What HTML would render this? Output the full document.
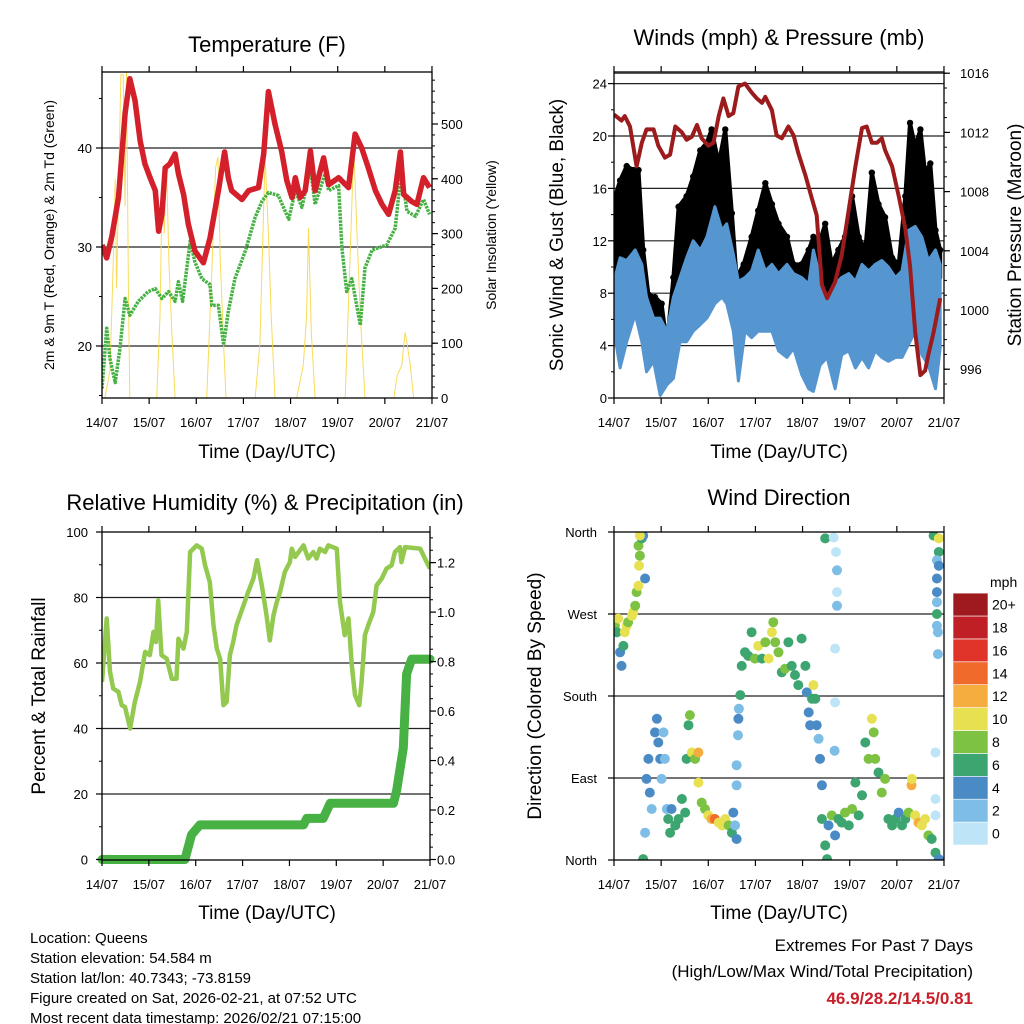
<!DOCTYPE html>
<html><head><meta charset="utf-8">
<style>
html,body{margin:0;padding:0;background:#fff;}
svg{display:block;font-family:"Liberation Sans",Arial,sans-serif;}
</style></head>
<body>
<svg id="c" width="1024" height="1024" viewBox="0 0 1024 1024" xmlns="http://www.w3.org/2000/svg">
<defs>
<clipPath id="cp1"><rect x="102" y="72" width="330" height="326"/></clipPath>
<clipPath id="cp2"><rect x="614" y="72" width="330" height="326"/></clipPath>
<clipPath id="cp3"><rect x="102" y="532" width="328" height="328"/></clipPath>
<clipPath id="cp4"><rect x="614" y="532" width="330" height="328"/></clipPath>
</defs>
<g id="g1"></g>
<g id="g2"></g>
<g id="g3"></g>
<g id="g4"></g>
<g font-size="15" fill="#000">
<text x="30" y="943">Location: Queens</text>
<text x="30" y="963">Station elevation: 54.584 m</text>
<text x="30" y="983">Station lat/lon: 40.7343; -73.8159</text>
<text x="30" y="1003">Figure created on Sat, 2026-02-21, at 07:52 UTC</text>
<text x="30" y="1023">Most recent data timestamp: 2026/02/21 07:15:00</text>
</g>
<g text-anchor="end">
<text x="973" y="951" font-size="17">Extremes For Past 7 Days</text>
<text x="973" y="977" font-size="17">(High/Low/Max Wind/Total Precipitation)</text>
<text x="973" y="1004" font-size="17" font-weight="bold" fill="#c8202a">46.9/28.2/14.5/0.81</text>
</g>
</svg>
<script>
// ---------- DATA ----------
const dayLabels = ["14/07","15/07","16/07","17/07","18/07","19/07","20/07","21/07"];
// Temperature (F), red
const tempT = [0,.10,.21,.35,.49,.59,.70,.81,.91,1.02,1.13,1.20,1.27,1.34,1.44,1.55,1.62,1.73,1.83,1.97,2.15,2.29,2.47,2.60,2.68,2.75,2.97,3.11,3.32,3.43,3.53,3.67,3.81,3.92,4.03,4.10,4.20,4.31,4.42,4.52,4.70,4.81,5.02,5.23,5.37,5.51,5.65,5.80,5.94,6.08,6.22,6.33,6.40,6.57,6.68,6.82,6.95];
const tempV = [30.2,28.9,31.1,35.0,43.5,47.0,44.8,40.7,38.4,37.0,35.7,31.6,33.3,38.0,38.4,39.4,37.4,35.3,32.3,29.6,28.4,30.9,35.7,39.6,37.0,35.7,34.8,35.7,36.0,39.4,45.7,42.4,39.7,36.7,35.0,37.0,35.0,35.7,39.7,35.7,39.0,36.3,37.0,36.0,41.4,40.0,38.0,35.7,34.3,33.3,35.7,39.6,35.3,34.6,34.3,37.0,36.0];
// Dew point (F), green
const dewT = [0,.10,.17,.28,.38,.49,.59,.77,.98,1.13,1.27,1.41,1.55,1.62,1.71,1.87,1.97,2.12,2.29,2.33,2.47,2.58,2.68,2.82,3.04,3.25,3.39,3.53,3.74,3.96,4.10,4.24,4.42,4.52,4.73,4.81,5.02,5.09,5.19,5.30,5.48,5.58,5.73,6.04,6.22,6.35,6.47,6.65,6.82,6.95];
const dewV = [15.7,21.8,18.7,16.3,19.7,24.8,23.1,24.5,25.5,25.8,24.8,25.5,24.5,26.5,24.5,30.6,28.5,26.8,26.2,24.1,24.1,20.1,23.5,26.8,29.6,33.0,34.6,35.5,35.2,32.8,35.7,34.0,38.0,34.3,37.4,35.7,36.2,29.9,25.5,26.8,22.1,27.9,29.7,30.2,31.9,37.7,33.6,33.1,34.8,33.3];
// Solar insolation (W/m2), yellow
const solT = [.06,.17,.24,.28,.31,.35,.40,.45,.49,.52,.56,.59, 1.16,1.23,1.28,1.32,1.37,1.42,1.48,1.55, 2.22,2.29,2.36,2.41,2.46,2.51,2.58,2.63, 3.25,3.35,3.43,3.46,3.53,3.59,3.67, 4.13,4.20,4.27,4.34,4.38,4.44,4.52, 5.16,5.24,5.30,5.34,5.41,5.48,5.58, 6.19,6.26,6.36,6.43,6.47,6.54,6.61];
const solV = [0,50,250,400,200,380,590,590,350,600,200,0, 0,150,400,300,420,250,120,0, 0,150,300,420,440,250,100,0, 0,100,350,440,300,150,0, 0,30,60,150,310,120,0, 0,200,350,460,300,150,0, 0,40,60,120,100,60,0];
// Pressure (mb), maroon
const presT = [0,.16,.23,.34,.48,.59,.69,.84,.94,1.08,1.19,1.30,1.44,1.54,1.65,1.76,1.86,2.00,2.11,2.22,2.32,2.43,2.53,2.64,2.78,2.92,3.03,3.14,3.21,3.35,3.45,3.56,3.70,3.81,3.91,4.06,4.20,4.30,4.41,4.52,4.69,4.83,4.98,5.12,5.26,5.36,5.47,5.58,5.68,5.75,5.90,6.04,6.18,6.28,6.39,6.50,6.60,6.67,6.78,6.92];
const presV = [1013.2,1012.8,1013.1,1012.4,1009.7,1011.3,1012.2,1012.2,1011.1,1010.3,1010.5,1012.4,1012.0,1011.5,1011.7,1012.5,1011.6,1011.1,1011.3,1013.1,1014.3,1013.1,1013.3,1015.1,1015.3,1014.7,1014.3,1014.0,1014.4,1013.5,1011.8,1011.6,1012.4,1011.8,1010.6,1009.1,1007.5,1006.4,1001.7,1000.8,1001.9,1003.7,1006.8,1009.7,1012.3,1012.4,1011.3,1011.3,1011.6,1010.8,1009.7,1007.7,1005.5,1003.0,998.5,995.6,995.9,997.0,998.5,1000.8];
// Sonic wind range (mph), blue
const windT = [0,.13,.27,.45,.59,.69,.84,.98,1.12,1.26,1.40,1.54,1.68,1.83,1.97,2.14,2.29,2.39,2.53,2.64,2.78,2.92,3.06,3.21,3.35,3.49,3.67,3.81,3.98,4.13,4.23,4.37,4.52,4.69,4.83,4.98,5.12,5.26,5.40,5.54,5.68,5.82,5.97,6.11,6.25,6.39,6.53,6.67,6.82,6.92];
const windHi = [8.9,10.7,10.5,11.3,10.2,7.7,6.1,6.1,5.1,7.7,9.2,10.7,12.0,11.3,12.3,14.6,12.8,13.3,11.0,8.9,9.2,9.7,11.3,9.7,10.2,9.5,10.2,9.5,9.2,8.7,11.3,9.2,7.2,8.7,9.2,9.5,8.9,10.2,9.7,10.2,10.5,10.0,9.2,9.7,12.8,13.1,12.3,10.5,11.3,10.2];
const windLo = [5.1,2.3,4.3,6.4,4.3,2.0,2.8,0.2,1.0,1.5,4.3,4.3,5.1,5.6,6.1,7.2,7.7,7.2,5.1,1.3,5.1,4.6,5.1,5.1,5.1,3.6,3.1,3.8,1.8,0.7,0.5,2.5,3.1,0.7,3.3,3.6,2.3,3.1,2.3,3.6,3.1,2.8,3.1,3.1,4.1,5.1,3.3,2.5,0.7,3.8];
// Gust peaks (mph), black
const gustT = [0,.13,.27,.41,.52,.62,.73,.87,1.01,1.12,1.26,1.37,1.54,1.68,1.83,1.97,2.07,2.22,2.36,2.50,2.60,2.75,2.92,3.06,3.21,3.35,3.49,3.67,3.81,3.98,4.13,4.23,4.37,4.48,4.62,4.76,4.90,5.05,5.19,5.33,5.47,5.61,5.75,5.90,6.04,6.18,6.28,6.39,6.50,6.60,6.71,6.82,6.92];
const gustV = [15.1,16.6,17.7,17.4,17.4,11.3,7.9,7.7,7.2,4.1,9.2,14.6,15.4,16.9,18.9,19.5,20.5,17.9,20.5,14.1,9.2,10.2,12.3,14.3,16.4,14.8,13.3,12.3,10.2,10.2,11.3,12.3,12.0,13.3,10.2,11.3,12.3,15.4,12.3,11.3,17.2,14.8,13.8,10.7,10.2,15.4,21.0,19.2,20.5,17.2,17.9,12.8,11.3];
// Relative humidity (%)
const rhT = [0,.10,.17,.24,.35,.42,.49,.60,.70,.81,.92,1.02,1.10,1.15,1.20,1.27,1.38,1.49,1.59,1.63,1.74,1.81,1.88,2.02,2.13,2.20,2.30,2.38,2.45,2.52,2.59,2.66,2.73,2.80,2.87,3.02,3.12,3.23,3.31,3.41,3.51,3.58,3.66,3.73,3.80,3.90,4.01,4.05,4.12,4.30,4.40,4.51,4.58,4.65,4.76,4.83,5.01,5.08,5.18,5.26,5.33,5.40,5.49,5.54,5.61,5.68,5.79,5.86,5.97,6.07,6.18,6.25,6.36,6.39,6.47,6.79,6.89,7.0];
const rhV = [54.2,73.6,57.3,52.2,51.2,47.1,46.6,40.0,48.1,54.2,63.4,62.4,69.5,66.4,79.1,62.4,61.3,55.2,55.2,67.4,64.4,69.5,93.9,95.9,94.9,89.8,84.7,71.5,64.4,61.3,47.1,48.1,62.4,66.4,71.5,77.6,81.7,85.8,91.4,83.7,74.6,66.9,74.6,78.6,81.7,87.8,90.8,94.9,92.4,95.9,91.9,93.9,91.9,94.9,93.9,95.9,94.9,78.6,68.5,73.6,59.3,50.2,47.1,54.2,68.5,71.5,75.6,83.7,85.8,88.8,89.8,93.9,95.4,90.8,95.4,94.9,91.9,88.8];
// Total precipitation (in)
const prT = [0,1.77,1.91,2.09,4.30,4.37,4.72,4.87,6.22,6.29,6.43,6.50,6.61,7.0];
const prV = [0,0,0.10,0.14,0.14,0.166,0.166,0.227,0.227,0.28,0.45,0.75,0.81,0.81];
// Wind direction (deg) colored by speed (mph)
const dirT = [.02,.06,.09,.13,.16,.20,.23,.27,.30,.38,.41,.45,.48,.52,.53,.55,.52,.59,.62,.55,.66,
.62,.66,.69,.73,.76,.80,.87,.91,.94,.98,1.01,1.05,1.08,1.12,1.15,1.19,1.22,1.30,1.37,1.44,1.51,1.54,1.58,1.61,1.65,1.72,1.79,1.79,1.86,1.93,2.00,2.07,2.14,2.22,2.29,2.36,2.43,2.50,2.53,2.57,2.60,
2.60,2.60,2.63,2.64,2.65,2.68,2.71,2.78,2.85,2.92,2.99,3.06,3.14,3.21,3.28,3.35,3.38,3.42,3.49,3.56,3.63,3.70,3.77,3.84,3.91,3.98,4.06,4.09,4.13,4.16,4.20,4.23,4.27,4.30,4.34,4.37,4.41,
4.41,4.48,4.52,4.55,4.62,4.69,4.76,4.83,4.90,4.98,5.05,5.12,5.19,5.26,5.33,5.40,5.47,5.51,5.54,5.61,5.68,5.75,5.82,5.90,5.97,6.04,6.11,6.18,6.25,6.31,6.32,6.39,6.46,6.53,6.60,6.67,6.74,6.82,6.89,
4.48,4.66,4.71,4.73,4.73,4.73,4.69,4.69,4.68,6.82,6.82,6.82,
6.78,6.89,6.89,6.85,6.89,6.85,6.85,6.85,6.85,6.85,6.87,6.87];
const dirV = [257,250,265,228,213,235,250,257,261,268,272,279,294,301,323,334,345,353,356,356,309,
1,30,89,111,74,56,140,155,129,111,89,140,111,56,45,30,56,38,45,67,52,111,148,159,118,111,118,85,63,56,49,45,45,41,38,45,38,30,52,38,23,
82,104,137,155,166,181,213,228,224,250,221,235,221,239,221,250,261,239,228,206,210,239,213,203,192,243,213,184,162,148,177,192,177,148,133,111,82,
45,16,1,38,49,27,45,41,52,38,56,85,49,71,129,111,155,140,111,96,74,89,45,38,45,52,38,45,52,82,89,49,41,38,45,27,23,8,1,
353,354,338,318,294,279,232,173,120,118,67,49,
356,353,338,329,323,309,294,283,270,257,250,226];
const dirS = [8,6,10,4,4,6,10,10,8,10,10,8,8,10,10,8,8,6,4,10,4,
6,2,4,4,4,2,4,4,4,4,2,2,2,2,6,6,4,6,6,6,6,6,6,8,10,8,12,10,8,8,10,12,14,10,10,10,8,6,4,2,4,
2,2,2,4,2,6,6,6,6,6,8,10,6,8,10,10,8,8,8,6,8,6,6,6,6,6,6,4,4,4,6,10,6,4,2,4,4,
6,6,6,4,8,4,6,6,8,6,8,6,6,6,6,8,10,8,8,6,8,8,6,6,6,4,6,6,8,12,10,10,12,10,10,8,6,6,4,
6,0,0,2,0,2,0,0,2,0,0,0,
6,10,6,2,4,4,4,2,6,2,2,2];
const speedColors = ["#bde4f7","#7ebde6","#4a8bc6","#3da570","#7dc242","#e7e152","#f6ad40","#f06a2b","#e0342b","#c11f26","#9f1a1e"];
const speedLabels = ["0","2","4","6","8","10","12","14","16","18","20+"];

// ---------- HELPERS ----------
const NS="http://www.w3.org/2000/svg";
function mk(parent,tag,attrs){const e=document.createElementNS(NS,tag);for(const k in attrs)e.setAttribute(k,attrs[k]);parent.appendChild(e);return e;}
function txt(parent,x,y,s,attrs){const e=mk(parent,"text",Object.assign({x:x,y:y},attrs||{}));e.textContent=s;return e;}
function lineD(ts,vs,xs,ys){return ts.map((t,i)=>(i?"L":"M")+xs(t).toFixed(1)+","+ys(vs[i]).toFixed(1)).join("");}
function interp(ts,vs,t){if(t<=ts[0])return vs[0];for(let i=1;i<ts.length;i++){if(t<=ts[i]){const f=(t-ts[i-1])/(ts[i]-ts[i-1]);return vs[i-1]+f*(vs[i]-vs[i-1]);}}return vs[vs.length-1];}

function frame(g,x0,y0,w,h,xs){
  const r=mk(g,"rect",{x:x0,y:y0,width:w,height:h,fill:"none",stroke:"#000","stroke-width":1.3});
  
  
  dayLabels.forEach((lab,i)=>{
    const x=xs(i);
    mk(g,"line",{x1:x,x2:x,y1:y0+h,y2:y0+h+6,stroke:"#000","stroke-width":1.2});
    mk(g,"line",{x1:x,x2:x,y1:y0,y2:y0-6,stroke:"#000","stroke-width":1.2});
    const t=txt(g,x,y0+h+29,lab,{"font-size":13,"text-anchor":"middle"});
    
    
  });
}
function yTicks(g,side,x,ticks,ys,labels,minor,fmtX,anchor){
  ticks.forEach((v,i)=>{
    const y=ys(v);
    mk(g,"line",{x1:x,x2:x+(side<0?-6:6),y1:y,y2:y,stroke:"#000","stroke-width":1.2});
    if(labels){const t=txt(g,fmtX,y+5,labels[i],{"font-size":13,"text-anchor":anchor});
      
      }
  });
  (minor||[]).forEach(v=>{const y=ys(v);mk(g,"line",{x1:x,x2:x+(side<0?-3:3),y1:y,y2:y,stroke:"#000","stroke-width":1});});
}
function grid(g,x0,x1,vals,ys){vals.forEach(v=>{const y=ys(v);const l=mk(g,"line",{x1:x0,x2:x1,y1:y,y2:y,stroke:"#222","stroke-width":1.2});
  
  });}
function range(a,b,s){const r=[];for(let v=a;v<=b+1e-9;v+=s)r.push(+v.toFixed(4));return r;}

// ---------- PANEL 1: Temperature ----------
(function(){
  const g=document.getElementById("g1");
  const xs=d=>102+d*47.14, ys=T=>346-(T-20)*9.9, ysol=W=>398-W*0.548;
  grid(g,102,432,[20,30,40],ys);
  const c=mk(g,"g",{"clip-path":"url(#cp1)"});
  const sol=mk(c,"path",{d:lineD(solT,solV,xs,ysol),fill:"none",stroke:"#f7d53c","stroke-width":1,opacity:0.85});
  
  
  const dew=mk(c,"path",{d:lineD(dewT,dewV,xs,ys),fill:"none",stroke:"#45b142","stroke-width":3.5,"stroke-dasharray":"2.5 1","stroke-linejoin":"round"});
  
  
  const tmp=mk(c,"path",{d:lineD(tempT,tempV,xs,ys),fill:"none",stroke:"#d3202a","stroke-width":5.5,"stroke-linejoin":"round"});
  
  
  frame(g,102,72,330,326,xs);
  yTicks(g,-1,102,[20,30,40],ys,["20","30","40"],range(15,45,5),92,"end");
  yTicks(g,1,432,range(0,500,100),ysol,["0","100","200","300","400","500"],range(20,580,20),441,"start");
  const t=txt(g,267,52,"Temperature (F)",{"font-size":22,"text-anchor":"middle"});
   
  const xl=txt(g,267,458,"Time (Day/UTC)",{"font-size":19,"text-anchor":"middle"});
   
  const yl=txt(g,0,0,"2m & 9m T (Red, Orange) & 2m Td (Green)",{"font-size":14,"text-anchor":"middle",transform:"translate(54,235) rotate(-90)"});
   
  const yr=txt(g,0,0,"Solar Insolation (Yellow)",{"font-size":14,"text-anchor":"middle",transform:"translate(496,235) rotate(-90)"});
   
})();

// ---------- PANEL 2: Winds & Pressure ----------
(function(){
  const g=document.getElementById("g2");
  const xs=d=>614+d*47.14, yw=w=>398-w*13.1, yp=p=>310-(p-1000)*14.8;
  grid(g,614,944,[4,8,12,16,20,24],yw);
  const c=mk(g,"g",{"clip-path":"url(#cp2)"});
  let d="";
  gustT.forEach((t,i)=>{d+=(i?"L":"M")+xs(t).toFixed(1)+","+yw(gustV[i]).toFixed(1);});
  for(let i=gustT.length-1;i>=0;i--){d+="L"+xs(gustT[i]).toFixed(1)+","+yw(interp(windT,windHi,gustT[i])-1).toFixed(1);}
  const ga=mk(c,"path",{d:d+"Z",fill:"#000",stroke:"#000","stroke-width":4,"stroke-linejoin":"round"});
  
  
  gustT.forEach((t,i)=>{
    const p=mk(c,"circle",{cx:xs(t),cy:yw(gustV[i]),r:3.2,fill:"#000"});
    
    
  });
  let w="";
  windT.forEach((t,i)=>{w+=(i?"L":"M")+xs(t).toFixed(1)+","+yw(windHi[i]).toFixed(1);});
  for(let i=windT.length-1;i>=0;i--){w+="L"+xs(windT[i]).toFixed(1)+","+yw(windLo[i]).toFixed(1);}
  const wa=mk(c,"path",{d:w+"Z",fill:"#5596d0",stroke:"#5596d0","stroke-width":3,"stroke-linejoin":"round"});
  
  
  const pr=mk(c,"path",{d:lineD(presT,presV,xs,yp),fill:"none",stroke:"#9c1b1c","stroke-width":4,"stroke-linejoin":"round"});
  
  
  mk(g,"line",{x1:614,x2:944,y1:yp(1016),y2:yp(1016),stroke:"#222","stroke-width":1});
  frame(g,614,72,330,326,xs);
  yTicks(g,-1,614,[0,4,8,12,16,20,24],yw,["0","4","8","12","16","20","24"],range(2,22,4),607,"end");
  yTicks(g,1,944,[996,1000,1004,1008,1012,1016],yp,["996","1000","1004","1008","1012","1016"],range(995,1016,1),960,"start");
  const t=txt(g,779,45,"Winds (mph) & Pressure (mb)",{"font-size":22,"text-anchor":"middle"});
   
  const xl=txt(g,779,458,"Time (Day/UTC)",{"font-size":19,"text-anchor":"middle"});
   
  const yl=txt(g,0,0,"Sonic Wind & Gust (Blue, Black)",{"font-size":19,"text-anchor":"middle",transform:"translate(563,235) rotate(-90)"});
   
  const yr=txt(g,0,0,"Station Pressure (Maroon)",{"font-size":19,"text-anchor":"middle",transform:"translate(1021,235) rotate(-90)"});
   
})();

// ---------- PANEL 3: RH & Precip ----------
(function(){
  const g=document.getElementById("g3");
  const xs=d=>102+d*46.86, yr=v=>859.5-v*3.275, yp=v=>859.5-v*247.4;
  grid(g,102,430,[20,40,60,80],yr);
  const c=mk(g,"g",{"clip-path":"url(#cp3)"});
  const rh=mk(c,"path",{d:lineD(rhT,rhV,xs,yr),fill:"none",stroke:"#92c94e","stroke-width":4.5,"stroke-linejoin":"round"});
  
  
  const p=mk(g,"path",{d:lineD(prT,prV,xs,yp),fill:"none",stroke:"#48b144","stroke-width":9,"stroke-linejoin":"round","stroke-linecap":"round"});
  
  
  frame(g,102,532,328,328,xs);
  yTicks(g,-1,102,[0,20,40,60,80,100],yr,["0","20","40","60","80","100"],range(10,90,20),88,"end");
  yTicks(g,1,430,range(0,1.2,0.2),yp,["0.0","0.2","0.4","0.6","0.8","1.0","1.2"],range(0.05,1.3,0.05),437,"start");
  const t=txt(g,265,510,"Relative Humidity (%) & Precipitation (in)",{"font-size":22,"text-anchor":"middle"});
   
  const xl=txt(g,267,919,"Time (Day/UTC)",{"font-size":19,"text-anchor":"middle"});
   
  const yl=txt(g,0,0,"Percent & Total Rainfall",{"font-size":19,"text-anchor":"middle",transform:"translate(45,696) rotate(-90)"});
   
})();

// ---------- PANEL 4: Wind Direction ----------
(function(){
  const g=document.getElementById("g4");
  const xs=d=>614+d*47.14, yd=v=>860-v*(328/360);
  grid(g,614,944,[90,180,270],yd);
  const c=mk(g,"g",{"clip-path":"url(#cp4)"});
  dirT.forEach((t,i)=>{
    const k=Math.min(10,Math.floor(dirS[i]/2));
    const p=mk(c,"circle",{cx:xs(t).toFixed(1),cy:yd(dirV[i]).toFixed(1),r:5,fill:speedColors[k]});
    
    
  });
  frame(g,614,532,330,328,xs);
  yTicks(g,-1,614,[0,90,180,270,360],yd,["North","East","South","West","North"],[],597,"end");
  const t=txt(g,779,505,"Wind Direction",{"font-size":22,"text-anchor":"middle"});
   
  const xl=txt(g,779,919,"Time (Day/UTC)",{"font-size":19,"text-anchor":"middle"});
   
  const yl=txt(g,0,0,"Direction (Colored By Speed)",{"font-size":19,"text-anchor":"middle",transform:"translate(541,696) rotate(-90)"});
   
  const lg=mk(g,"g",{});
  
  
  const lt=txt(lg,990,587,"mph",{"font-size":14});
   
  const bh=22.9;
  speedColors.forEach((col,i)=>{
    const y=845-(i+1)*bh;
    const r=mk(lg,"rect",{x:953,y:y,width:35,height:bh,fill:col,stroke:"#fff","stroke-width":0.6});
    
    
    const l=txt(lg,992,y+bh/2+5,speedLabels[i],{"font-size":14});
    
    
  });
})();
</script>
</body></html>
